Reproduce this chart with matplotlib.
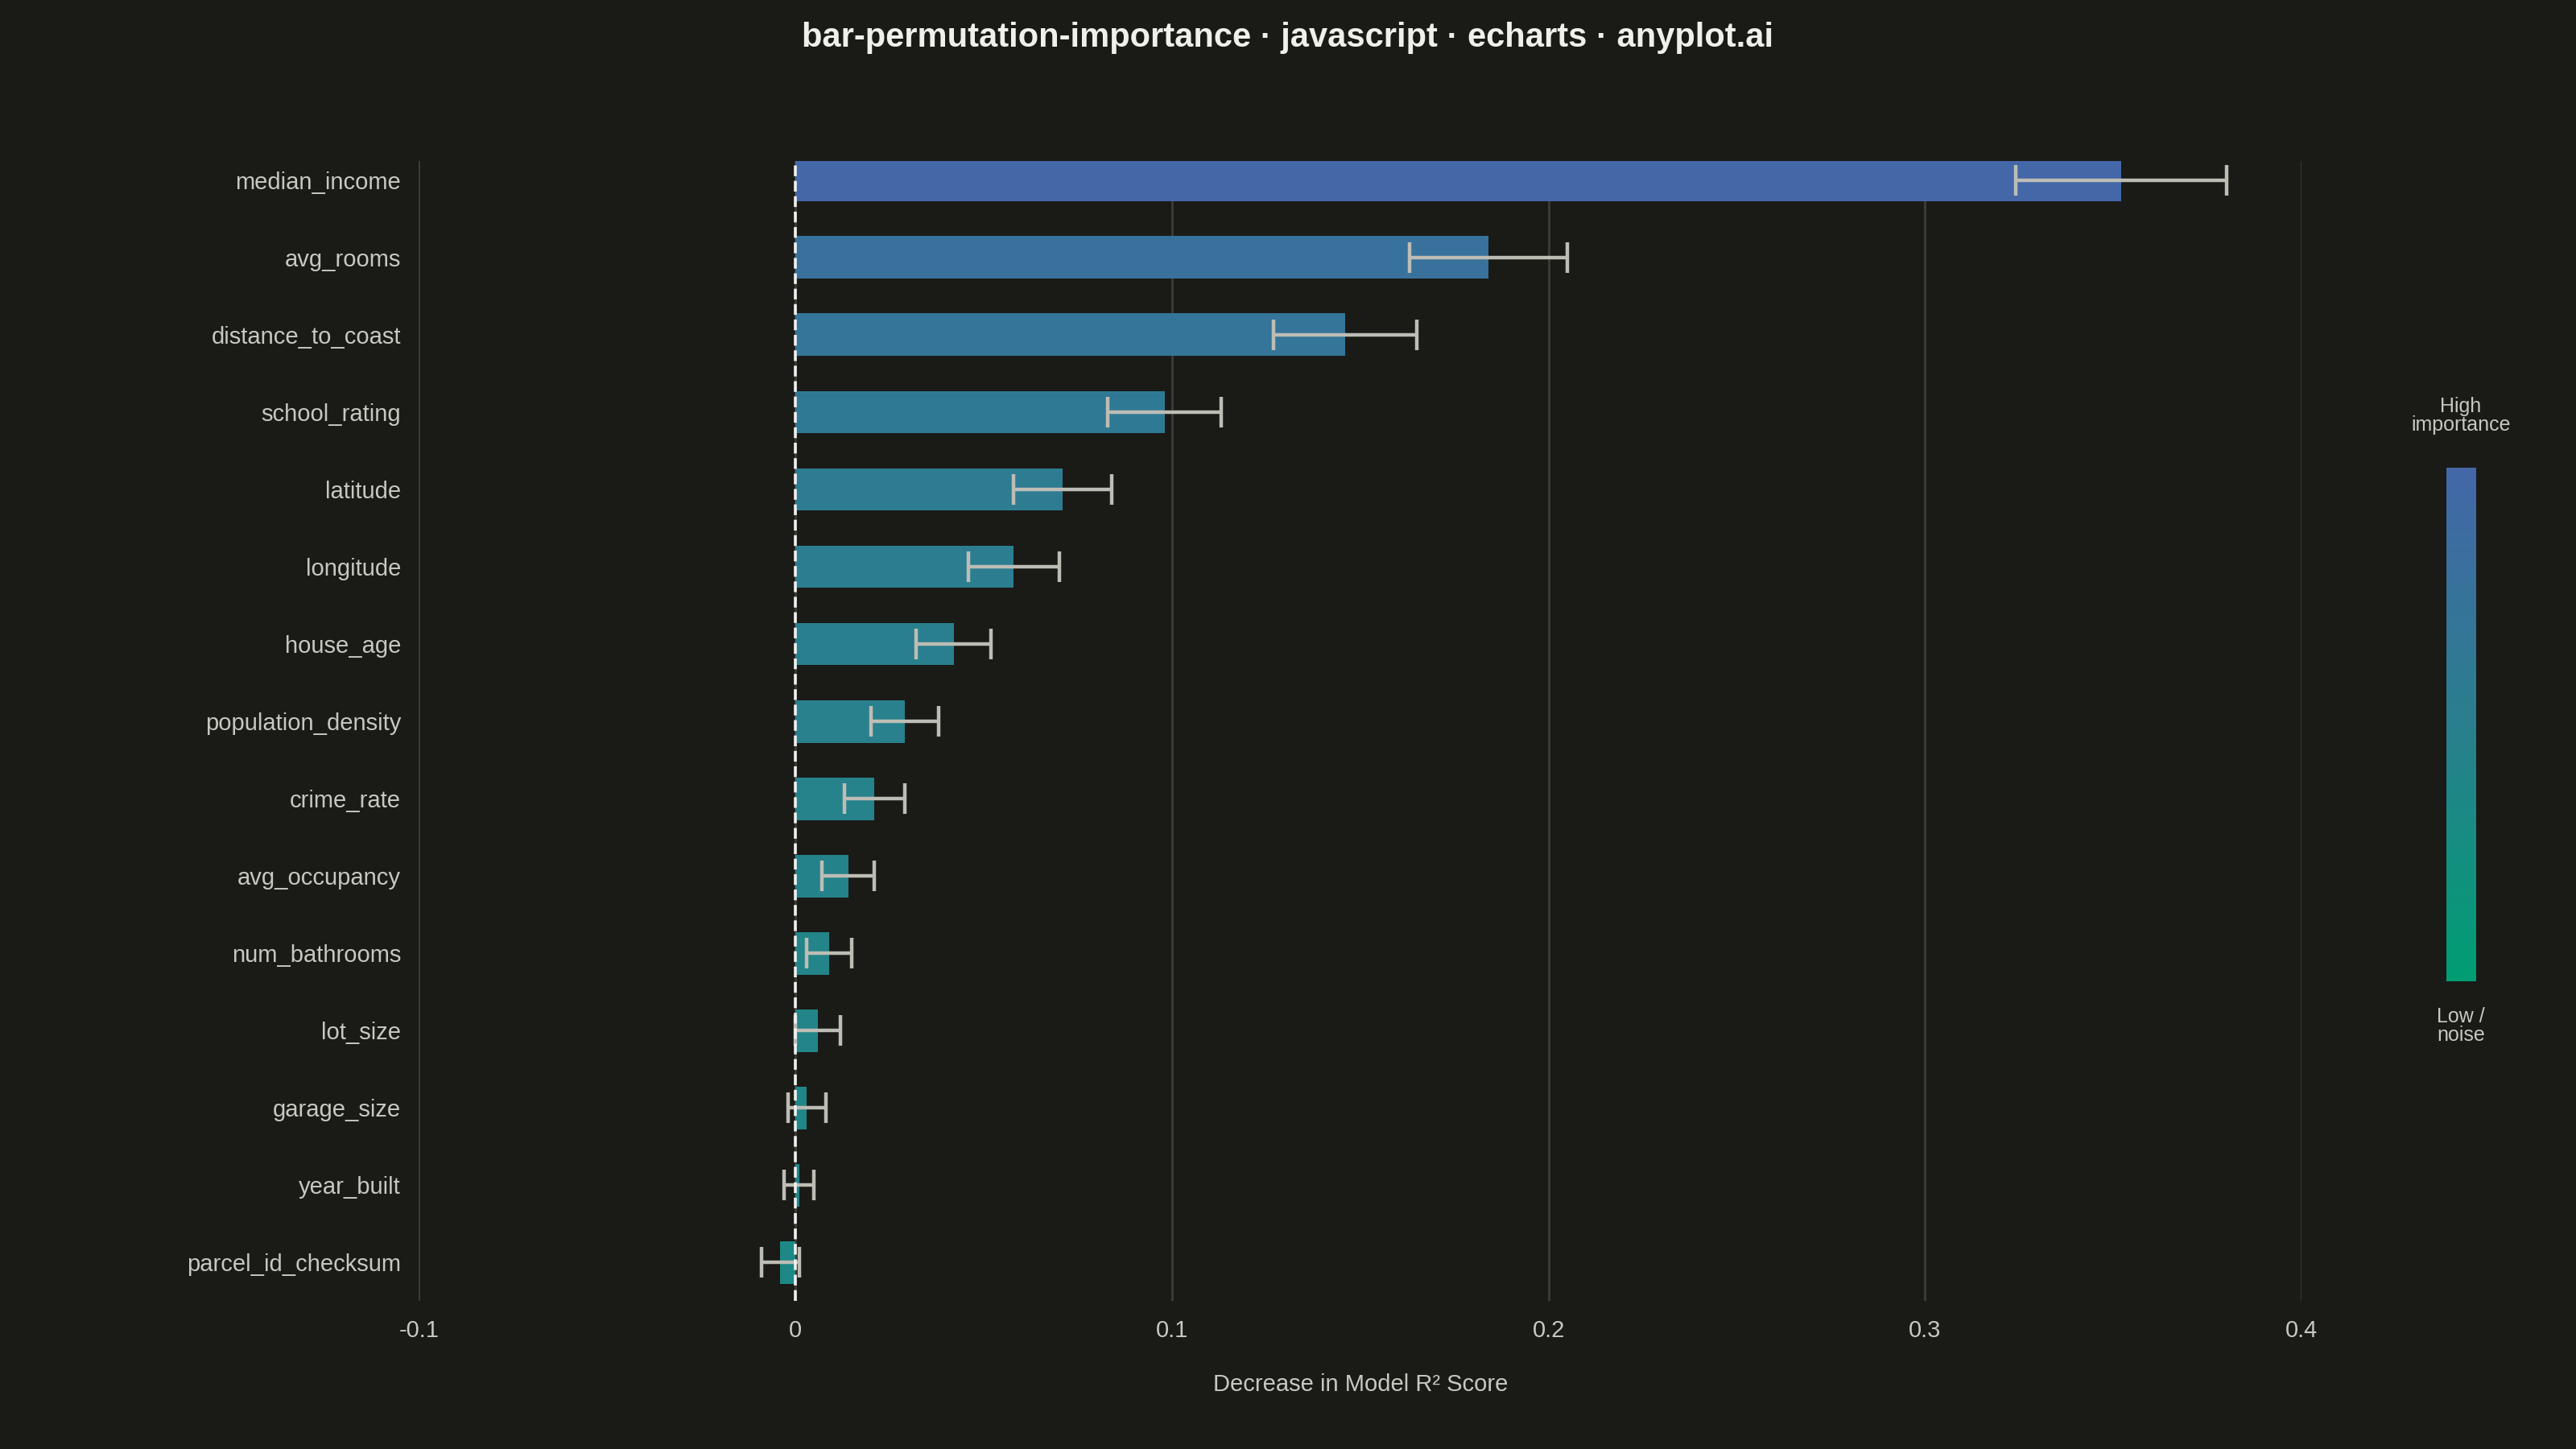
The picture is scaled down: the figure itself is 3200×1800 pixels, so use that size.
import numpy as np
import matplotlib.pyplot as plt
from matplotlib.colors import LinearSegmentedColormap

features = ['median_income', 'avg_rooms', 'distance_to_coast', 'school_rating', 'latitude',
            'longitude', 'house_age', 'population_density', 'crime_rate', 'avg_occupancy',
            'num_bathrooms', 'lot_size', 'garage_size', 'year_built', 'parcel_id_checksum']
importance = [0.352, 0.184, 0.146, 0.098, 0.071, 0.058, 0.042, 0.029, 0.021, 0.014,
              0.009, 0.006, 0.003, 0.001, -0.004]
error = [0.028, 0.021, 0.019, 0.015, 0.013, 0.012, 0.010, 0.009, 0.008, 0.007,
         0.006, 0.006, 0.005, 0.004, 0.005]
xticks = [-0.1, 0, 0.1, 0.2, 0.3, 0.4]
xtick_labels = ['-0.1', '0', '0.1', '0.2', '0.3', '0.4']

bg = '#1a1a17'
txt = '#c8c8c0'
cmap = LinearSegmentedColormap.from_list('imp', ['#009e73', '#2a7f8e', '#4467a8'])

plt.rcParams['font.family'] = ['Liberation Sans', 'DejaVu Sans']
fig = plt.figure(figsize=(16, 9), dpi=200, facecolor=bg)
ax = fig.add_axes([0.1626, 0.102, 0.7309, 0.787], facecolor=bg)

vals = np.array(importance)
norm = (vals - vals.min()) / (vals.max() - vals.min())
colors = [cmap(0.35 + 0.65 * n ** 0.7) for n in norm]
y = np.arange(len(features))
ax.barh(y, vals, height=0.55, color=colors, zorder=2)
ax.errorbar(vals, y, xerr=error, fmt='none', ecolor='#bdbdb5', elinewidth=1.6,
            capsize=7, capthick=1.6, zorder=3)
ax.axvline(0, color='#f0f0f0', linestyle='--', linewidth=1.3, zorder=4)

ax.set_xlim(-0.1, 0.4)
ax.set_ylim(len(features) - 0.5, -0.25)
ax.set_yticks(y)
ax.set_yticklabels(features)
ax.set_xticks(xticks)
ax.set_xticklabels(xtick_labels)
ax.grid(axis='x', color='#3c3c38', linewidth=1, zorder=0)
for s in ax.spines.values():
    s.set_visible(False)
ax.tick_params(colors=txt, labelsize=10.5, length=0, pad=8)
ax.set_xlabel('Decrease in Model R² Score', color=txt, fontsize=10.5, labelpad=14)

fig.suptitle('bar-permutation-importance · javascript · echarts · anyplot.ai',
             color='#f0f0ea', fontsize=15, fontweight='bold', y=0.985)

cax = fig.add_axes([0.9496, 0.323, 0.0115, 0.354])
grad = np.linspace(1, 0, 256).reshape(-1, 1)
cax.imshow(grad, aspect='auto', cmap=cmap)
cax.set_axis_off()
fig.text(0.9553, 0.70, 'High\nimportance', color=txt, fontsize=9, ha='center', va='bottom',
         linespacing=0.95)
fig.text(0.9553, 0.305, 'Low /\nnoise', color=txt, fontsize=9, ha='center', va='top',
         linespacing=0.95)

fig.savefig('out.png', facecolor=bg)
